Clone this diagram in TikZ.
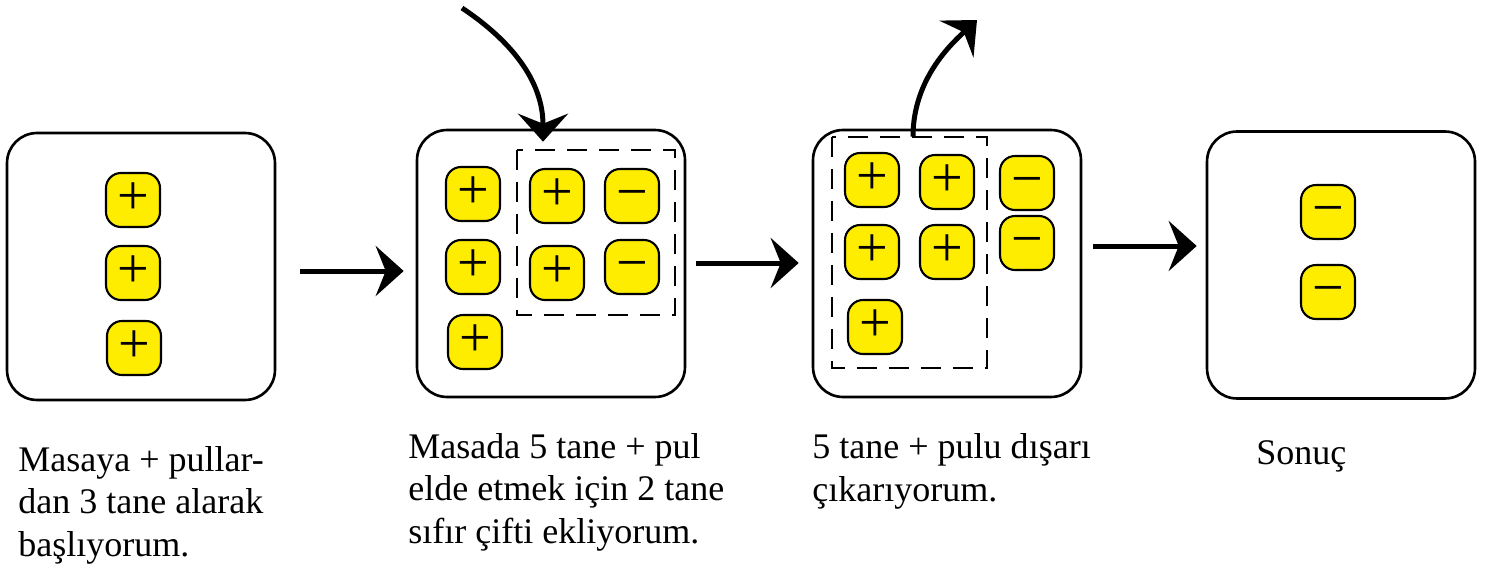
\documentclass[tikz,border=0pt]{standalone}
\usepackage{fontspec}
\setmainfont{Liberation Serif}
\usepackage{tikz}
\usetikzlibrary{arrows.meta}
\definecolor{pulsari}{HTML}{FFED00}
\tikzset{
	masa/.style={draw,line width=1.5pt,rounded corners=0.6cm,minimum width=5.36cm,minimum height=5.34cm,inner sep=0pt},
	pul/.style={draw,line width=1.2pt,fill=pulsari,rounded corners=0.3cm,minimum size=1.08cm,inner sep=0pt,
		font=\fontsize{32}{32}\selectfont,text height=16pt,text depth=0pt},
	cift/.style={dashed,dash pattern=on 0.4cm off 0.24cm,line width=1.1pt},
	ok/.style={-{Stealth[length=0.56cm,width=1cm,inset=0.2cm]},line width=0.1cm},
	yazi/.style={align=left,inner sep=0pt,anchor=base west,font=\fontsize{20.5}{24}\selectfont}
}
\begin{document}
\begin{tikzpicture}[x=0.02cm,y=-0.02cm]
\useasboundingbox (0,0) rectangle (1490,568);
\foreach \n/\x/\y in{
	m1/141/266.5,
	m2/551/263.5,
	m3/947/263.5,
	m4/1341/265
}
{
	\node[masa] (\n) at (\x,\y) {};
}
\draw[cift] (517,150) rectangle (675,315);
\draw[cift] (832,137) rectangle (987,368);
\foreach \n/\x/\y/\s in{
	a1/133/200/+,
	a2/133/273/+,
	a3/134/348/+,
	b1/473/194/+,
	b2/473/267/+,
	b3/475/342/+,
	b4/557/196/+,
	b5/557/273/+,
	b6/632/196/−,
	b7/632/267/−,
	c1/872/180/+,
	c2/872/252/+,
	c3/875/327/+,
	c4/947/182/+,
	c5/947/252/+,
	c6/1027/183/−,
	c7/1027/243/−,
	d1/1328/212/−,
	d2/1328/292/−
}
{
	\node[pul] (\n) at (\x,\y) {\s};
}
\draw[ok] ([shift={(24,4.5)}]m1.east) -- ([shift={(-12,7.5)}]m2.west);
\draw[ok] ([shift={(10,-0.5)}]m2.east) -- ([shift={(-13,-0.5)}]m3.west);
\draw[ok] ([shift={(11,-17.5)}]m3.east) -- ([shift={(-9,-19)}]m4.west);
\coordinate (gir) at (462,8);
\coordinate (cik) at (977,20);
\draw[ok] (gir) .. controls (510,40) and (543,80) .. ([shift={(-8,13)}]m2.north);
\draw[ok] ([shift={(-34,8)}]m3.north) .. controls (913,80) and (950,45) .. (cik);
% base anchor sits on the last line
\node[yazi] (t1) at (18,556) {Masaya + pullar-\\dan 3 tane alarak\\başlıyorum.};
\node[yazi] (t2) at (408,543) {Masada 5 tane + pul\\elde etmek için 2 tane\\sıfır çifti ekliyorum.};
\node[yazi] (t3) at (812,501) {5 tane + pulu dışarı\\çıkarıyorum.};
\node[yazi] (t4) at (1256,464) {Sonuç};
\end{tikzpicture}
\end{document}
